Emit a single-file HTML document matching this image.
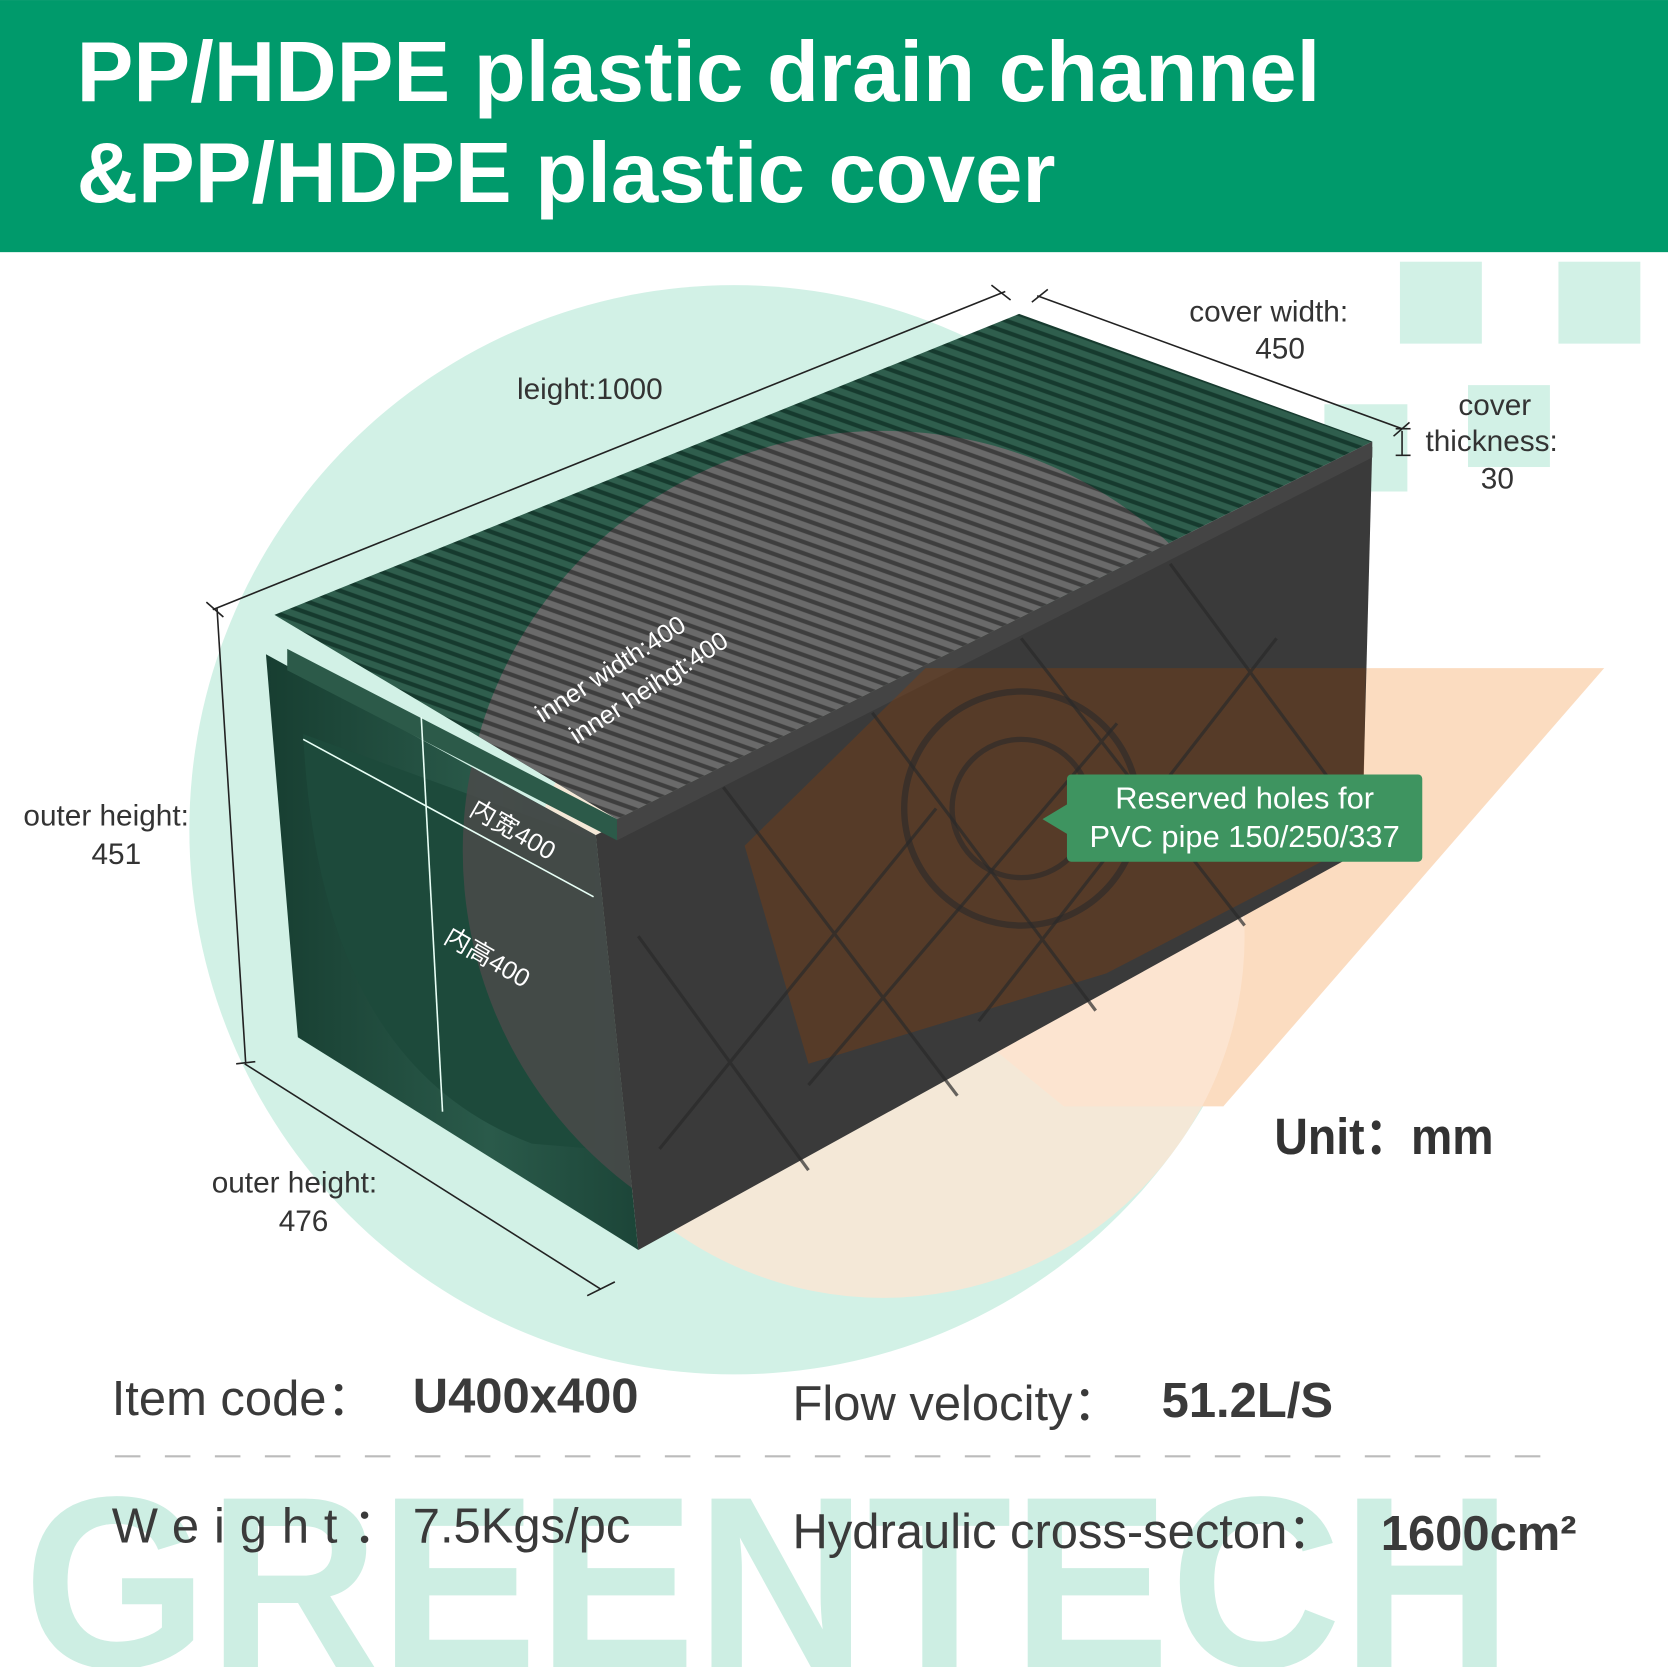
<!DOCTYPE html>
<html><head><meta charset="utf-8"><style>
html,body{margin:0;padding:0;background:#fff;}
svg{display:block;}
text{font-family:"Liberation Sans","Noto Sans CJK SC",sans-serif;}
</style></head><body>
<svg width="1668" height="1667" viewBox="0 0 1568 1567" xmlns="http://www.w3.org/2000/svg">
<defs>
<pattern id="bars" width="10" height="10" patternUnits="userSpaceOnUse" patternTransform="rotate(19.7)">
<rect width="10" height="10" fill="#2f5e4d"/>
<rect y="3" width="10" height="4" fill="#163a2e"/>
</pattern>
<pattern id="barsg" width="10" height="10" patternUnits="userSpaceOnUse" patternTransform="rotate(19.7)">
<rect width="10" height="10" fill="#6a6a6a"/>
<rect y="3" width="10" height="4" fill="#3e3e3e"/>
</pattern>
<clipPath id="disc"><circle cx="830" cy="800" r="395"/></clipPath>
<linearGradient id="endg" x1="0" y1="0" x2="1" y2="0"><stop offset="0" stop-color="#173e31"/><stop offset="0.6" stop-color="#2a5a4a"/><stop offset="1" stop-color="#1c4538"/></linearGradient>
</defs>
<rect width="1568" height="1567" fill="#fff"/>
<circle cx="690" cy="780" r="512" fill="#d2f1e6"/>
<rect x="1316" y="246" width="77" height="77" fill="#d2f1e6"/>
<rect x="1465" y="246" width="77" height="77" fill="#d2f1e6"/>
<rect x="1380" y="362" width="77" height="77" fill="#d2f1e6"/>
<rect x="1245" y="380" width="78" height="82" fill="#d2f1e6"/>
<polygon points="700,795 870,628 1508,628 1150,1040 1000,1040" fill="#fbdcc0"/>
<circle cx="830" cy="880" r="340" fill="#fce6d3" opacity="0.8"/>
<rect x="0" y="0" width="1568" height="237" fill="#009a6b"/>
<text x="72" y="95" font-size="80" font-weight="bold" fill="#fff">PP/HDPE plastic drain channel</text>
<text x="72" y="190" font-size="80" font-weight="bold" fill="#fff">&amp;PP/HDPE plastic cover</text>
<polygon points="560,785 1290,420 1280,800 600,1175" fill="#3a3a3a"/>
<polygon points="250,615 560,785 600,1175 280,975" fill="url(#endg)"/>
<path d="M285,690 Q300,1000 500,1075 L560,1080 L560,790 Z" fill="#1d4a3b"/>
<polygon points="258,578 958,295 1290,415 580,770" fill="url(#bars)"/>
<polygon points="270,610 580,770 580,790 270,630" fill="#2c5a49"/>
<polygon points="580,770 1290,415 1290,430 580,790" fill="#444"/>
<g clip-path="url(#disc)">
<polygon points="258,578 958,295 1290,415 580,770" fill="url(#barsg)"/>
<polygon points="250,615 560,785 600,1175 280,975" fill="#4a4a4a" opacity="0.85"/>
</g>
<polygon points="700,795 870,628 1284,628 1281,790 1040,915 760,1000" fill="#7a3f14" opacity="0.45"/>
<circle cx="960" cy="760" r="110" fill="none" stroke="#2a2a2a" stroke-width="6" opacity="0.6"/>
<circle cx="960" cy="760" r="65" fill="none" stroke="#2a2a2a" stroke-width="5" opacity="0.6"/>
<g stroke="#2a2a2a" stroke-width="3" opacity="0.7">
<line x1="600" y1="880" x2="760" y2="1100"/><line x1="680" y1="740" x2="900" y2="1030"/>
<line x1="820" y1="670" x2="1030" y2="950"/><line x1="960" y1="600" x2="1170" y2="870"/>
<line x1="1100" y1="530" x2="1270" y2="760"/><line x1="620" y1="1080" x2="880" y2="760"/>
<line x1="760" y1="1020" x2="1050" y2="680"/><line x1="920" y1="960" x2="1200" y2="600"/>
</g>
<g stroke="#222" stroke-width="1.5" fill="none">
<line x1="200" y1="573" x2="945" y2="274"/><line x1="194" y1="566" x2="210" y2="580"/><line x1="932" y1="268" x2="950" y2="282"/>
<line x1="975" y1="278" x2="1318" y2="403"/><line x1="970" y1="284" x2="985" y2="272"/><line x1="1310" y1="410" x2="1325" y2="397"/>
<line x1="204" y1="572" x2="231" y2="1000"/><line x1="222" y1="1000" x2="240" y2="998"/>
<line x1="230" y1="1000" x2="565" y2="1212"/><line x1="552" y1="1218" x2="578" y2="1205"/>
<line x1="1318" y1="405" x2="1318" y2="428"/><line x1="1312" y1="403" x2="1326" y2="403"/><line x1="1312" y1="428" x2="1326" y2="428"/>
</g>
<g stroke="#e8fff6" stroke-width="1.5">
<line x1="285" y1="695" x2="558" y2="843"/><line x1="396" y1="674" x2="416" y2="1045"/>
</g>
<g fill="#333" font-size="28">
<text x="486" y="375">leight:1000</text>
<text x="1118" y="302">cover  width:</text>
<text x="1180" y="337">450</text>
<text x="1371" y="390">cover</text>
<text x="1340" y="424">thickness:</text>
<text x="1392" y="459">30</text>
<text x="22" y="776">outer height:</text>
<text x="86" y="812">451</text>
<text x="199" y="1121">outer height:</text>
<text x="262" y="1157">476</text>
</g>
<g fill="#fff" font-size="24">
<text transform="translate(510,680) rotate(-33)">inner width:400</text>
<text transform="translate(542,700) rotate(-33)">inner heihgt:400</text>
<text transform="translate(440,765) rotate(30)">内宽400</text>
<text transform="translate(416,885) rotate(30)">内高400</text>
</g>
<polygon points="980,770 1005,755 1005,785" fill="#3e9460"/>
<rect x="1003" y="728" width="334" height="82" rx="4" fill="#3e9460"/>
<text x="1170" y="760" font-size="29" fill="#fff" text-anchor="middle">Reserved holes for</text>
<text x="1170" y="796" font-size="29" fill="#fff" text-anchor="middle">PVC pipe 150/250/337</text>
<text x="1198" y="1085" font-size="48" font-weight="bold" fill="#333" textLength="206" lengthAdjust="spacingAndGlyphs">Unit：mm</text>
<text x="22" y="1567" font-size="230" font-weight="bold" fill="#cdeee3" textLength="1400" lengthAdjust="spacingAndGlyphs">GREENTECH</text>
<g fill="#3a3a3a" font-size="46">
<text x="105" y="1330">Item code：</text>
<text x="388" y="1328" font-weight="bold">U400x400</text>
<text x="745" y="1335">Flow velocity：</text>
<text x="1092" y="1332" font-weight="bold">51.2L/S</text>
<text x="105" y="1450" letter-spacing="14">Weight：</text>
<text x="388" y="1450">7.5Kgs/pc</text>
<text x="745" y="1455">Hydraulic cross-secton：</text>
<text x="1298" y="1457" font-weight="bold">1600cm²</text>
</g>
<line x1="108" y1="1369" x2="1450" y2="1369" stroke="#bbb" stroke-width="2" stroke-dasharray="24,23"/>
</svg>
</body></html>
